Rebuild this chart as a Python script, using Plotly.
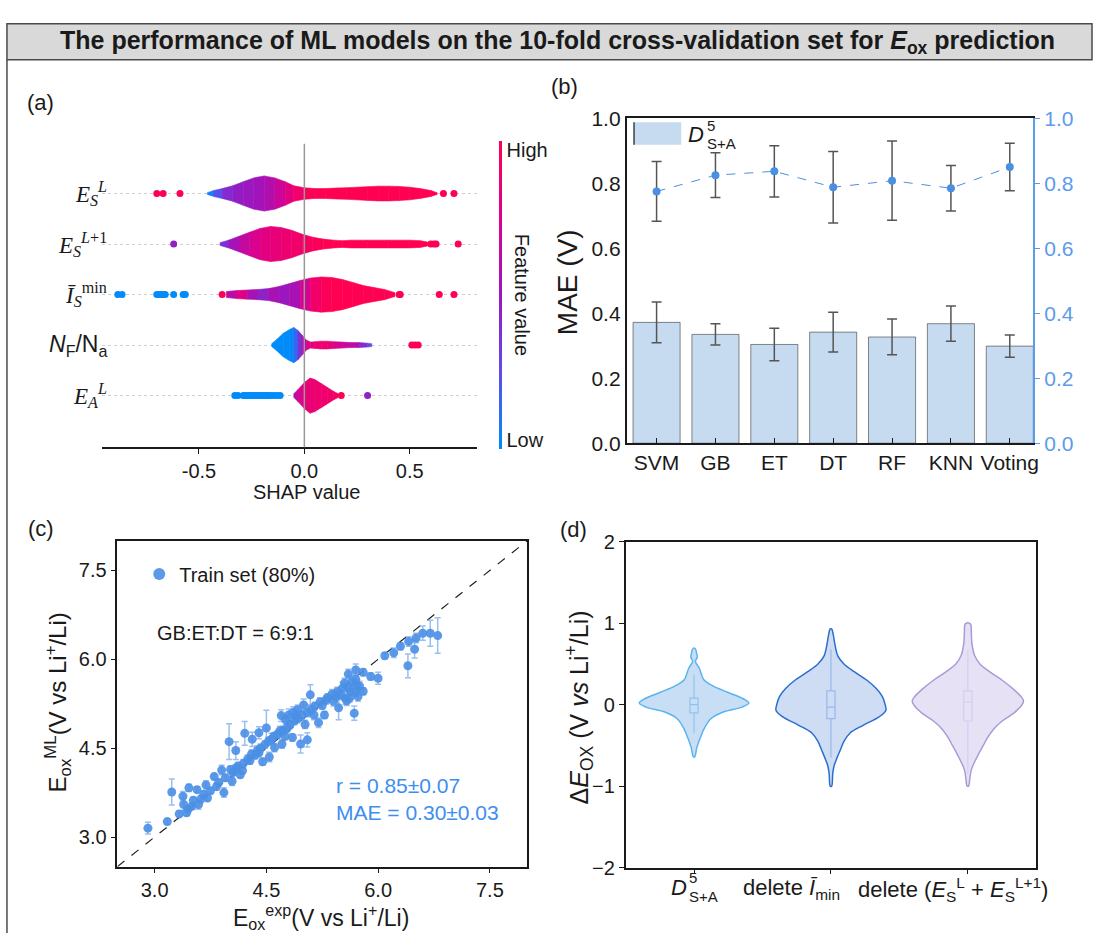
import plotly.graph_objects as go
from plotly.colors import sample_colorscale

W, H = 1100, 944
def px(x): return x / W
def py(y): return 1 - y / H

FONT = "Liberation Sans, Arial, sans-serif"
SERIF = "Liberation Serif, DejaVu Serif, serif"
INK = "#1a1a1a"

# ---------------- (a) SHAP summary data ----------------
shap_labels = [
    "<i>E</i><sub><i>S</i></sub><sup><i>L</i></sup>",
    "<i>E</i><sub><i>S</i></sub><sup><i>L</i>+1</sup>",
    "<i>Ī</i><sub><i>S</i></sub><sup>min</sup>",
    '<span style="font-family:Liberation Sans"><i>N</i><sub>F</sub>/N<sub>a</sub></span>',
    "<i>E</i><sub><i>A</i></sub><sup><i>L</i></sup>",
]
# density profile: shap value, relative thickness, feature value (0 low .. 1 high)
row0_x = [-0.46, -0.43, -0.39, -0.34, -0.29, -0.24, -0.19, -0.14, -0.09, -0.05, 0.0, 0.05, 0.10, 0.15, 0.20, 0.25, 0.30, 0.35, 0.40, 0.45, 0.50, 0.55, 0.60, 0.63]
row0_d = [0.05, 0.17, 0.28, 0.44, 0.67, 0.89, 1.0, 0.89, 0.67, 0.44, 0.33, 0.28, 0.28, 0.31, 0.33, 0.36, 0.39, 0.42, 0.42, 0.40, 0.36, 0.28, 0.17, 0.05]
row0_c = [0.0, 0.1, 0.35, 0.45, 0.48, 0.50, 0.55, 0.62, 0.75, 0.85, 0.95, 1, 1, 1, 1, 1, 1, 1, 1, 1, 1, 1, 1, 1]

row1_x = [-0.40, -0.36, -0.31, -0.26, -0.21, -0.16, -0.11, -0.06, -0.01, 0.04, 0.09, 0.14, 0.18, 0.22, 0.30, 0.40, 0.50, 0.55, 0.585]
row1_d = [0.08, 0.22, 0.44, 0.67, 0.89, 1.0, 0.94, 0.78, 0.56, 0.39, 0.28, 0.22, 0.19, 0.22, 0.22, 0.22, 0.22, 0.19, 0.11]
row1_c = [0.3, 0.45, 0.6, 0.7, 0.78, 0.82, 0.85, 0.88, 0.92, 0.95, 1, 1, 1, 1, 1, 1, 1, 1, 1]

row2_x = [-0.37, -0.32, -0.27, -0.22, -0.17, -0.12, -0.07, -0.02, 0.03, 0.08, 0.13, 0.18, 0.23, 0.28, 0.33, 0.38, 0.43]
row2_d = [0.17, 0.23, 0.26, 0.29, 0.34, 0.46, 0.63, 0.80, 0.94, 1.0, 0.97, 0.86, 0.69, 0.51, 0.40, 0.29, 0.11]
row2_c = [0.5, 0.75, 0.8, 0.3, 0.6, 0.5, 0.5, 0.6, 0.85, 0.95, 1, 1, 1, 1, 1, 1, 1]

row3_x = [-0.155, -0.13, -0.10, -0.07, -0.05, -0.03, -0.01, 0.01, 0.03, 0.05, 0.08, 0.11, 0.14, 0.18, 0.22, 0.26, 0.30, 0.32]
row3_d = [0.08, 0.33, 0.67, 0.89, 1.0, 0.83, 0.56, 0.28, 0.17, 0.19, 0.22, 0.22, 0.19, 0.17, 0.14, 0.14, 0.11, 0.08]
row3_c = [0, 0, 0, 0, 0.02, 0.25, 0.5, 0.7, 0.8, 0.85, 0.9, 0.85, 0.85, 0.6, 0.75, 0.5, 0.3, 0.2]

row4_x = [-0.05, -0.03, 0.0, 0.027, 0.05, 0.08, 0.11, 0.14, 0.16]
row4_d = [0.11, 0.34, 0.74, 1.0, 0.91, 0.69, 0.46, 0.23, 0.11]
row4_c = [0.5, 0.7, 0.82, 0.85, 0.87, 0.88, 0.9, 0.9, 0.9]

# isolated points (row index, shap value, feature value)
dot_row = [0]*5 + [1]*5 + [2]*15 + [3]*3 + [4]*21
dot_x = [-0.70, -0.67, -0.59, 0.66, 0.71,
         -0.62, 0.60, 0.615, 0.625, 0.73,
         -0.885, -0.865, -0.70, -0.69, -0.68, -0.67, -0.66, -0.62, -0.575, -0.565, -0.39, 0.45, 0.455, 0.64, 0.71,
         0.51, 0.525, 0.54,
         -0.33, -0.315, -0.29, -0.28, -0.27, -0.26, -0.25, -0.24, -0.23, -0.22, -0.21, -0.20, -0.19, -0.18, -0.17, -0.16, -0.145, -0.13, -0.115, 0.175, 0.30]
dot_c = [1, 1, 1, 1, 1,
         0.45, 1, 1, 1, 1,
         0, 0, 0, 0, 0, 0, 0, 0, 0, 0, 1, 1, 1, 1, 1,
         1, 1, 1,
         0, 0, 0, 0, 0, 0, 0, 0, 0, 0, 0, 0, 0, 0, 0, 0, 0, 0, 0, 1, 0.45]

SHAP_CS = [[0, "rgb(0,139,251)"], [0.25, "rgb(95,75,235)"], [0.5, "rgb(155,22,190)"],
           [0.75, "rgb(220,0,140)"], [1, "rgb(255,0,82)"]]

# ---------------- (b) model comparison ----------------
models = ["SVM", "GB", "ET", "DT", "RF", "KNN", "Voting"]
mae = [0.372, 0.335, 0.304, 0.342, 0.327, 0.368, 0.299]
mae_err = [0.063, 0.033, 0.050, 0.061, 0.055, 0.054, 0.034]
r_val = [0.775, 0.825, 0.837, 0.788, 0.808, 0.785, 0.850]
r_err = [0.092, 0.069, 0.079, 0.110, 0.122, 0.070, 0.073]

# ---------------- (c) parity plot ----------------
e_exp = [2.91, 3.17, 3.23, 3.33, 3.38, 3.39, 3.43, 3.46, 3.57, 3.59, 3.69, 3.71, 3.80, 3.83, 3.93, 3.90, 4.00, 4.04,
         4.09, 4.09, 4.21, 4.19, 4.28, 4.31, 4.38, 4.40, 4.45, 4.50, 4.54, 4.57, 4.61, 4.68, 4.71, 4.78, 4.80, 4.85,
         4.90, 4.96, 5.00, 5.02, 5.05, 5.09, 5.14, 5.20, 5.28, 5.30, 5.40, 5.44, 5.47, 5.52, 5.56, 5.60, 5.63, 5.68,
         5.70, 5.71, 5.73, 5.80, 5.80, 5.90, 6.00, 6.09, 6.21, 6.30, 6.40, 6.41, 6.49, 6.51, 6.60, 6.70, 6.80,
         3.45, 3.50, 3.62, 3.75, 3.86, 3.95, 4.05, 4.12, 4.15, 4.25, 4.30, 4.35, 4.42, 4.48, 4.53, 4.60, 4.65, 4.72,
         4.75, 4.82, 4.88, 4.92, 4.98, 5.05, 5.10, 5.15, 5.22, 5.25, 5.32, 5.38, 5.45, 5.50, 5.55, 5.60, 5.65, 5.70,
         5.58, 5.62, 5.70, 5.75, 4.70, 4.76, 4.86, 4.92, 3.52, 3.66, 4.02, 4.18, 4.40]
e_ml = [3.15, 3.26, 3.76, 3.39, 3.69, 3.55, 3.41, 3.83, 3.80, 3.55, 3.88, 3.66, 4.02, 3.85, 3.75, 4.13, 4.61, 3.94,
        4.46, 4.16, 4.75, 4.24, 4.29, 4.65, 4.46, 4.76, 4.27, 4.84, 4.35, 4.65, 4.51, 4.79, 4.57, 4.84, 5.06, 4.68,
        5.04, 4.57, 5.23, 4.90, 4.64, 5.40, 5.06, 4.93, 5.06, 5.31, 5.29, 5.37, 5.18, 5.51, 5.34, 5.75, 5.45, 5.09,
        5.82, 5.56, 5.37, 5.46, 5.78, 5.71, 5.68, 6.06, 6.11, 6.22, 5.89, 6.30, 6.17, 6.36, 6.44, 6.44, 6.40,
        3.47, 3.52, 3.64, 3.78, 3.92, 4.00, 4.09, 4.20, 4.05, 4.32, 4.40, 4.38, 4.50, 4.56, 4.62, 4.70, 4.73, 4.80,
        4.70, 4.90, 4.96, 5.00, 5.06, 5.10, 5.15, 5.21, 5.28, 5.22, 5.35, 5.41, 5.45, 5.40, 5.60, 5.52, 5.62, 5.66,
        5.30, 5.35, 5.45, 5.55, 5.05, 4.98, 5.10, 5.15, 3.62, 3.72, 4.14, 4.12, 4.42]
e_err = [0.10, 0.05, 0.22, 0.05, 0.08, 0.10, 0.05, 0.06, 0.05, 0.08, 0.07, 0.06, 0.05, 0.06, 0.08, 0.08, 0.30, 0.07,
         0.15, 0.06, 0.20, 0.07, 0.06, 0.12, 0.08, 0.10, 0.06, 0.30, 0.08, 0.10, 0.07, 0.08, 0.07, 0.08, 0.10, 0.06,
         0.08, 0.15, 0.10, 0.07, 0.12, 0.17, 0.08, 0.08, 0.06, 0.07, 0.08, 0.10, 0.20, 0.10, 0.10, 0.08, 0.12, 0.12,
         0.10, 0.10, 0.08, 0.06, 0.06, 0.06, 0.10, 0.05, 0.08, 0.06, 0.20, 0.08, 0.15, 0.08, 0.12, 0.22, 0.30,
         0.05, 0.05, 0.06, 0.05, 0.06, 0.06, 0.05, 0.06, 0.05, 0.06, 0.07, 0.06, 0.07, 0.06, 0.07, 0.06, 0.06, 0.07,
         0.06, 0.07, 0.06, 0.07, 0.08, 0.07, 0.07, 0.06, 0.07, 0.06, 0.07, 0.08, 0.08, 0.08, 0.08, 0.07, 0.10, 0.08,
         0.08, 0.07, 0.08, 0.08, 0.10, 0.08, 0.10, 0.08, 0.05, 0.05, 0.06, 0.05, 0.06]
parity_range = [2.5, 8.0]

# ---------------- (d) violin profiles ----------------
v_names = ["D5", "delete Imin", "delete (ES_L + ES_L+1)"]
v1_y = [0.69, 0.62, 0.58, 0.53, 0.45, 0.37, 0.31, 0.23, 0.15, 0.07, 0.02, -0.03, -0.09, -0.17, -0.29, -0.41, -0.53, -0.64]
v1_w = [0.008, 0.02, 0.023, 0.01, 0.038, 0.055, 0.07, 0.138, 0.25, 0.363, 0.40, 0.35, 0.213, 0.125, 0.075, 0.045, 0.02, 0.005]
v2_y = [0.93, 0.85, 0.75, 0.6, 0.5, 0.4, 0.3, 0.2, 0.1, 0.0, -0.07, -0.15, -0.25, -0.35, -0.45, -0.55, -0.65, -0.75, -0.85, -1.0]
v2_w = [0.005, 0.018, 0.028, 0.05, 0.095, 0.175, 0.263, 0.331, 0.376, 0.396, 0.401, 0.351, 0.238, 0.138, 0.095, 0.07, 0.045, 0.023, 0.013, 0.005]
v3_y = [1.0, 0.98, 0.9, 0.75, 0.6, 0.5, 0.4, 0.3, 0.2, 0.1, 0.05, 0.0, -0.1, -0.2, -0.3, -0.4, -0.5, -0.6, -0.7, -0.8, -0.9, -1.0]
v3_w = [0.012, 0.022, 0.025, 0.03, 0.05, 0.088, 0.163, 0.251, 0.326, 0.388, 0.406, 0.396, 0.338, 0.251, 0.188, 0.145, 0.113, 0.08, 0.05, 0.025, 0.015, 0.005]
box_q1 = [-0.10, -0.17, -0.20]
box_med = [0.0, -0.03, 0.03]
box_q3 = [0.08, 0.17, 0.17]
box_lo = [-0.35, -0.65, -0.85]
box_hi = [0.37, 0.68, 0.67]
v_line = ["#5ab4ee", "#2a6fd0", "#a99bd6"]
v_fill = ["rgba(170,205,238,0.65)", "rgba(190,210,240,0.75)", "rgba(225,218,244,0.8)"]

fig = go.Figure()

# ---- (a) traces
HMAX = 0.348
rows = [(row0_x, row0_d, row0_c), (row1_x, row1_d, row1_c), (row2_x, row2_d, row2_c),
        (row3_x, row3_d, row3_c), (row4_x, row4_d, row4_c)]
for r, (xs, ds, cs) in enumerate(rows):
    for i in range(len(xs) - 1):
        h0, h1 = ds[i] * HMAX, ds[i + 1] * HMAX
        col = sample_colorscale(SHAP_CS, [(cs[i] + cs[i + 1]) / 2])[0]
        fig.add_trace(go.Scatter(
            x=[xs[i], xs[i + 1], xs[i + 1], xs[i], xs[i]],
            y=[r - h0, r - h1, r + h1, r + h0, r - h0],
            mode="lines", fill="toself", fillcolor=col, line=dict(color=col, width=0.6),
            hoverinfo="skip", showlegend=False, xaxis="x", yaxis="y"))

fig.add_trace(go.Scatter(
    x=dot_x, y=dot_row, mode="markers", showlegend=False, xaxis="x", yaxis="y",
    marker=dict(size=7, color=dot_c, colorscale=SHAP_CS, cmin=0, cmax=1, showscale=True,
                colorbar=dict(thickness=3, thicknessmode="pixels", len=308, lenmode="pixels",
                              x=px(502), xanchor="left", xpad=0, y=py(290), yanchor="middle", ypad=0,
                              outlinewidth=0, tickvals=[0.03, 0.97], ticktext=["Low", "High"], ticks="",
                              tickfont=dict(size=20, color=INK, family=FONT))),
))

# ---- (b) traces
fig.add_trace(go.Bar(
    x=models, y=mae, width=0.8, xaxis="x2", yaxis="y2", showlegend=False,
    marker=dict(color="#c6dbef", line=dict(color="rgba(0,0,0,0.45)", width=1)),
    error_y=dict(type="data", array=mae_err, color="#555555", thickness=1.5, width=5)))
fig.add_trace(go.Scatter(
    x=models, y=r_val, xaxis="x2", yaxis="y3", mode="lines+markers", showlegend=False,
    line=dict(color="#4a90e2", width=1, dash="dash"), marker=dict(color="#4a90e2", size=8),
    error_y=dict(type="data", array=r_err, color="#555555", thickness=1.5, width=5)))

# ---- (c) traces
fig.add_trace(go.Scatter(
    x=parity_range, y=parity_range, mode="lines", xaxis="x3", yaxis="y4", showlegend=False,
    line=dict(color="#222222", width=1.2, dash="dash"), hoverinfo="skip"))
fig.add_trace(go.Scatter(
    x=e_exp, y=e_ml, mode="markers", xaxis="x3", yaxis="y4", name="Train set (80%)", showlegend=True,
    marker=dict(color="#4a8fe6", size=9, opacity=0.9),
    error_y=dict(type="data", array=e_err, color="rgba(120,170,235,0.75)", thickness=1.5, width=3)))

# ---- (d) traces
def violin_xy(center, ys, ws):
    xs = [center + w for w in ws] + [center - w for w in reversed(ws)]
    yy = list(ys) + list(reversed(ys))
    return xs + [xs[0]], yy + [yy[0]]

for i, (ys, ws) in enumerate([(v1_y, v1_w), (v2_y, v2_w), (v3_y, v3_w)]):
    vx, vy = violin_xy(i, ys, ws)
    fig.add_trace(go.Scatter(
        x=vx, y=vy, mode="lines", fill="toself", fillcolor=v_fill[i],
        line=dict(color=v_line[i], width=1.5, shape="spline"), xaxis="x4", yaxis="y5",
        showlegend=False, hoverinfo="skip"))
    fig.add_trace(go.Box(
        x=[i], q1=[box_q1[i]], median=[box_med[i]], q3=[box_q3[i]],
        lowerfence=[box_lo[i]], upperfence=[box_hi[i]], orientation="v",
        width=0.06, whiskerwidth=0, fillcolor="white", line=dict(color=v_line[i], width=1.2),
        xaxis="x4", yaxis="y5", showlegend=False, boxpoints=False))

# ---------------- layout ----------------
axis_common = dict(showgrid=False, zeroline=False, linecolor=INK, linewidth=1.5, tickcolor=INK,
                   tickfont=dict(size=20, color=INK, family=FONT))

layout = dict(
    width=W, height=H, margin=dict(l=0, r=0, t=0, b=0),
    paper_bgcolor="white", plot_bgcolor="white",
    font=dict(family=FONT, color=INK, size=20),
    showlegend=True,
    legend=dict(x=px(140), y=py(556), xanchor="left", yanchor="top", bgcolor="rgba(0,0,0,0)",
                font=dict(size=20, color=INK), itemsizing="constant"),
    # (a)
    xaxis=dict(domain=[px(103), px(480)], range=[-0.958, 0.821], anchor="y", showline=True,
               ticks="outside", ticklen=5, tickvals=[-0.5, 0, 0.5], ticktext=["-0.5", "0.0", "0.5"],
               **axis_common),
    yaxis=dict(domain=[py(446), py(135)], range=[5.02, -0.986], anchor="x", showline=False,
               tickvals=[0, 1, 2, 3, 4], showticklabels=False, ticks="", showgrid=True,
               gridcolor="#cfcfcf", griddash="dot", gridwidth=1, zeroline=False),
    # (b)
    xaxis2=dict(domain=[px(630), px(1039)], range=[-0.51, 6.40], anchor="y2", showline=True, mirror=True,
                ticks="inside", ticklen=5, type="category",
                **{**axis_common, "tickfont": dict(size=21, color=INK, family=FONT)}),
    yaxis2=dict(domain=[py(442), py(109)], range=[0, 1], anchor="x2", showline=True, ticks="",
                dtick=0.2, tickformat=".1f",
                **{**axis_common, "tickfont": dict(size=21, color=INK, family=FONT)}),
    yaxis3=dict(overlaying="y2", anchor="x2", side="right", range=[0, 1], dtick=0.2, tickformat=".1f",
                showline=True, linecolor="#5b9bea", linewidth=1.5, ticks="outside", ticklen=5,
                tickcolor="#5b9bea", tickfont=dict(size=21, color="#5b9bea", family=FONT),
                showgrid=False, zeroline=False),
    # (c)
    xaxis3=dict(domain=[px(118), px(530)], range=parity_range, anchor="y4", showline=True, mirror=True,
                ticks="outside", ticklen=5, tickvals=[3, 4.5, 6, 7.5], tickformat=".1f", **axis_common),
    yaxis4=dict(domain=[py(876), py(542)], range=parity_range, anchor="x3", showline=True, mirror=True,
                ticks="outside", ticklen=5, tickvals=[3, 4.5, 6, 7.5], tickformat=".1f", **axis_common),
    # (d)
    xaxis4=dict(domain=[px(629), px(1042)], range=[-0.5, 2.5], anchor="y5", showline=True, mirror=True,
                ticks="outside", ticklen=5, tickvals=[0, 1, 2], showticklabels=False, **axis_common),
    yaxis5=dict(domain=[py(877), py(543)], range=[-2, 2], anchor="x4", showline=True, mirror=True,
                ticks="outside", ticklen=5, dtick=1, **axis_common),
)
fig.update_layout(**layout)

shapes = [
    # title bar and frame
    dict(type="rect", xref="paper", yref="paper", x0=px(7), x1=px(1098), y0=py(49), y1=py(12),
         fillcolor="#d9d9d9", line=dict(color="#4a4a4a", width=1.5), layer="below"),
    dict(type="line", xref="paper", yref="paper", x0=px(7), x1=px(7), y0=py(49), y1=0,
         line=dict(color="#4a4a4a", width=1.5)),
    # (a) zero reference line
    dict(type="line", xref="x", yref="y domain", x0=0, x1=0, y0=0, y1=1,
         line=dict(color="#999999", width=1.5), layer="above"),
    # (b) legend swatch
    dict(type="rect", xref="paper", yref="paper", x0=px(637), x1=px(685), y0=py(136), y1=py(113),
         fillcolor="#c6dbef", line=dict(width=0)),
    dict(type="line", xref="paper", yref="paper", x0=px(637.5), x1=px(637.5), y0=py(136), y1=py(113),
         line=dict(color=INK, width=1.2)),
]
fig.update_layout(shapes=shapes)

def ann(text, x, y, size=20, color=INK, xanchor="center", yanchor="middle", angle=0, family=FONT, **kw):
    return dict(text=text, x=px(x), y=py(y), xref="paper", yref="paper", showarrow=False,
                xanchor=xanchor, yanchor=yanchor, textangle=angle, borderpad=0,
                font=dict(size=size, color=color, family=family), **kw)

annotations = [
    ann("<b>The performance of ML models on the 10-fold cross-validation set for <i>E</i><sub>ox</sub> prediction</b>",
        561, 31, size=25),
    ann("(a)", 41, 93, size=22),
    ann("(b)", 568, 76, size=22),
    ann("(c)", 41, 529, size=22),
    ann("(d)", 577, 530, size=22),
    # (a)
    ann("SHAP value", 308, 492, size=20),
    ann("Feature value", 525, 290, size=20, angle=90),
    # (b)
    ann("MAE (V)", 570, 277, size=28, angle=-90),
    ann("<i>D</i>", 691, 126, size=22, xanchor="left"),
    ann("5", 710, 116, size=15, xanchor="left"),
    ann("S+A", 710, 135, size=15, xanchor="left"),
    # (c)
    ann("E<sub>ox</sub><sup>ML</sup>(V vs Li<sup>+</sup>/Li)", 58, 708, size=24, angle=-90),
    ann("E<sub>ox</sub><sup>exp</sup>(V vs Li<sup>+</sup>/Li)", 323, 928, size=23),
    ann("GB:ET:DT = 6:9:1", 157, 637, size=20, xanchor="left"),
    ann("r = 0.85±0.07", 337, 793, size=21, color="#3d8ef0", xanchor="left"),
    ann("MAE = 0.30±0.03", 337, 820, size=21, color="#3d8ef0", xanchor="left"),
    # (d)
    ann("Δ<i>E</i><sub>OX</sub> (V <i>vs</i> Li<sup>+</sup>/Li)", 582, 713, size=25, angle=-90),
    ann("<i>D</i>", 674, 897, size=22, xanchor="left"),
    ann("5", 692, 887, size=15, xanchor="left"),
    ann("S+A", 692, 907, size=15, xanchor="left"),
    ann("delete <i>Ī</i><sub>min</sub>", 746, 899, size=22, xanchor="left"),
    ann("delete (<i>E</i><sub>S</sub><sup>L</sup> + <i>E</i><sub>S</sub><sup>L+1</sup>)", 862, 899, size=22,
        xanchor="left"),
]
# (a) feature labels on the rows
for i, lab in enumerate(shap_labels):
    annotations.append(dict(text=lab, x=px(110), y=i, xref="paper", yref="y", showarrow=False,
                            xanchor="right", yanchor="middle",
                            font=dict(size=23, color=INK, family=SERIF)))
fig.update_layout(annotations=annotations)

fig.write_html("out.html", config={"displayModeBar": False},
               post_script="document.body.style.margin='0px';")
